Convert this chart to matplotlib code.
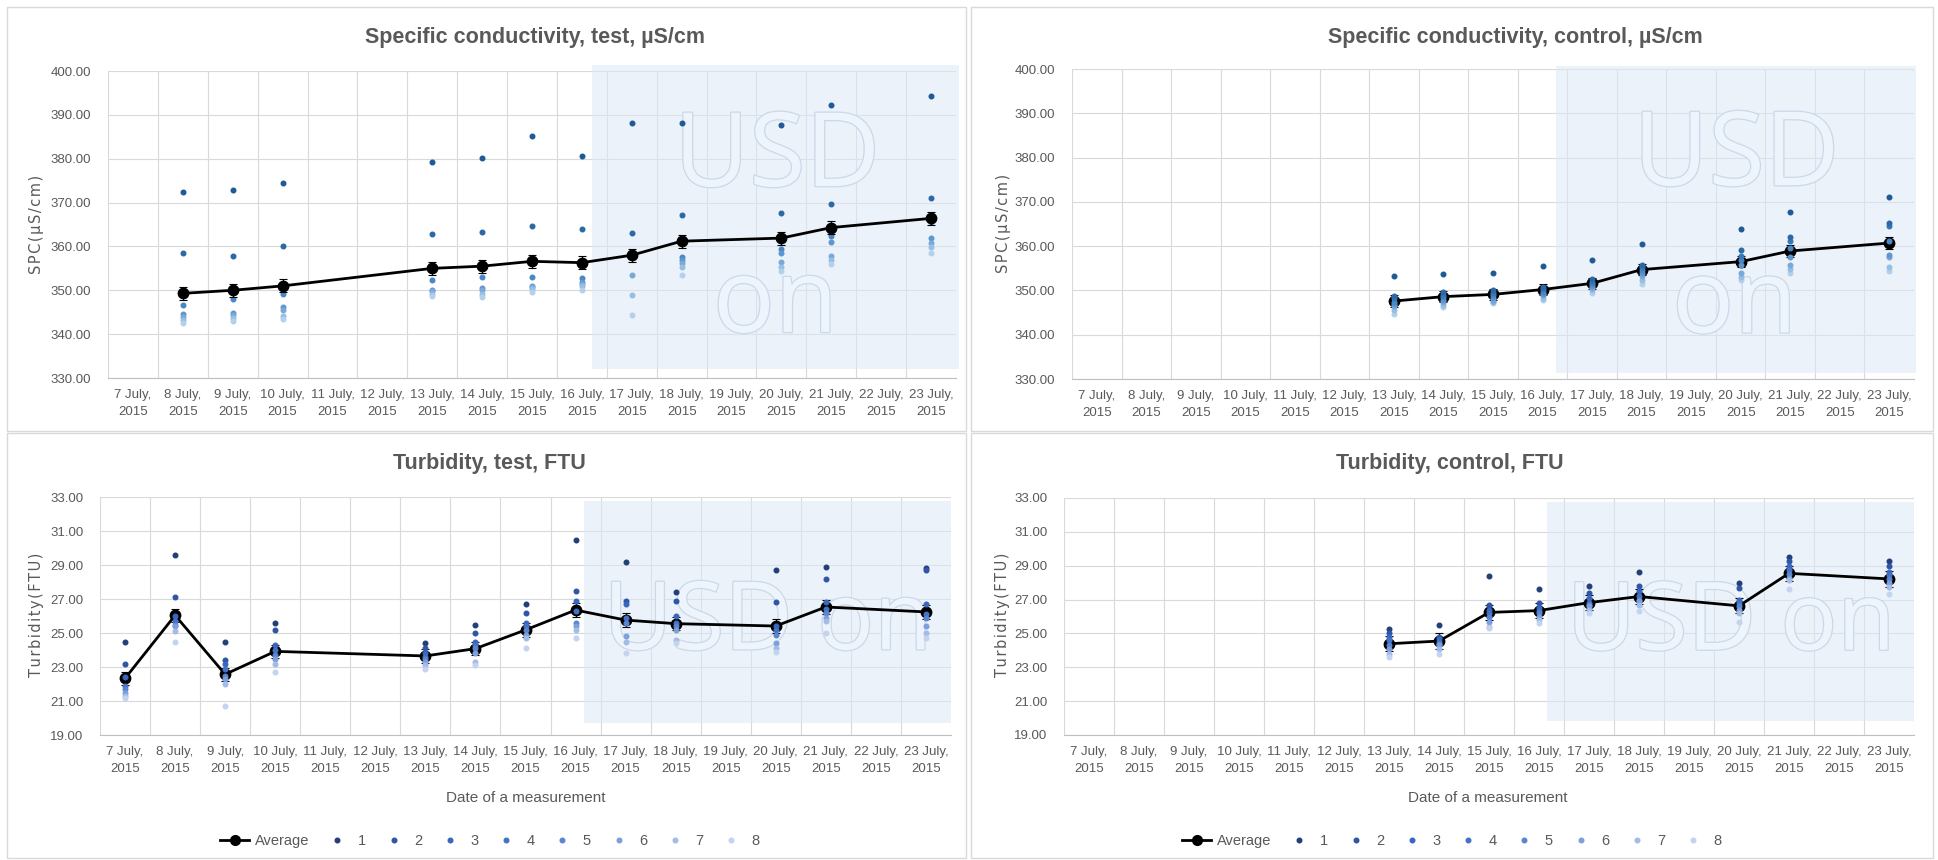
import numpy as np
import matplotlib.pyplot as plt
import matplotlib.font_manager as fm
import matplotlib.patheffects as pe
from matplotlib.lines import Line2D
from matplotlib.patches import Rectangle

# --- fonts ---
installed = {f.name for f in fm.fontManager.ttflist}
narrow = 'Liberation Sans Narrow' if 'Liberation Sans Narrow' in installed else 'Liberation Sans'
wm_font = 'Open Sans' if 'Open Sans' in installed else 'DejaVu Sans'
plt.rcParams['font.family'] = [narrow, 'DejaVu Sans']

# --- data ---
all_days = [7, 8, 9, 10, 11, 12, 13, 14, 15, 16, 17, 18, 19, 20, 21, 22, 23]
date_labels = [f"{d} July,\n2015" for d in all_days]
series_names = ['1', '2', '3', '4', '5', '6', '7', '8']

# Specific conductivity, test (rows = dates, columns = series 1..8)
spc_test_days = [8, 9, 10, 13, 14, 15, 16, 17, 18, 20, 21, 23]
spc_test_pts = [
    [372.3, 358.6, 349.0, 346.7, 344.5, 343.9, 343.3, 342.5],
    [372.9, 357.8, 349.6, 347.9, 344.9, 344.3, 343.7, 343.0],
    [374.5, 360.2, 351.3, 349.1, 346.2, 345.4, 344.1, 343.5],
    [379.2, 362.8, 355.5, 352.3, 350.1, 349.8, 349.2, 348.6],
    [380.1, 363.3, 355.8, 353.1, 350.6, 350.0, 349.2, 348.5],
    [385.1, 364.6, 356.9, 353.1, 351.0, 350.8, 350.3, 349.5],
    [380.7, 363.9, 356.6, 352.7, 352.0, 351.4, 350.9, 350.1],
    [388.1, 363.0, 358.4, 358.1, 357.7, 353.4, 349.0, 344.3],
    [388.1, 367.1, 361.3, 357.5, 356.9, 356.2, 355.3, 353.4],
    [387.6, 367.7, 362.0, 359.4, 358.4, 356.5, 355.3, 354.4],
    [392.3, 369.7, 364.5, 362.4, 361.0, 357.8, 357.0, 356.1],
    [394.4, 371.1, 366.6, 365.5, 362.0, 360.7, 359.9, 358.4],
]
spc_test_avg = [349.3, 350.0, 351.0, 355.0, 355.5, 356.6, 356.3, 358.0, 361.2, 361.9, 364.3, 366.4]
spc_test_err = [1.5, 1.5, 1.5, 1.5, 1.5, 1.5, 1.5, 1.5, 1.5, 1.5, 1.5, 1.5]

# Specific conductivity, control
spc_ctrl_days = [13, 14, 15, 16, 17, 18, 20, 21, 23]
spc_ctrl_pts = [
    [344.7, 345.6, 346.4, 347.0, 347.5, 348.2, 348.8, 353.2],
    [346.3, 346.8, 347.4, 347.9, 348.5, 349.0, 349.6, 353.7],
    [347.1, 347.4, 347.7, 348.3, 349.0, 349.5, 350.1, 353.9],
    [347.9, 348.4, 348.9, 349.2, 349.7, 350.3, 350.8, 355.5],
    [349.5, 350.0, 350.5, 351.0, 351.4, 352.0, 352.6, 356.9],
    [351.5, 352.4, 353.3, 354.0, 354.6, 355.2, 355.8, 360.5],
    [352.4, 353.1, 354.0, 355.8, 356.9, 357.8, 359.2, 363.8],
    [354.0, 354.8, 355.8, 357.6, 359.5, 361.2, 362.0, 367.7],
    [354.5, 355.4, 357.5, 358.0, 361.2, 364.5, 365.2, 371.0],
]
spc_ctrl_avg = [347.6, 348.6, 349.1, 350.2, 351.6, 354.7, 356.5, 358.9, 360.7]
spc_ctrl_err = [1.3, 1.3, 1.3, 1.3, 1.3, 1.3, 1.3, 1.3, 1.3]

# Turbidity, test
turb_test_days = [7, 8, 9, 10, 13, 14, 15, 16, 17, 18, 20, 21, 23]
turb_test_pts = [
    [24.5, 23.2, 22.4, 21.9, 21.7, 21.5, 21.3, 21.2],
    [29.6, 27.1, 26.0, 25.7, 25.5, 25.4, 25.1, 24.5],
    [24.5, 23.4, 23.2, 22.9, 22.5, 22.3, 22.0, 20.7],
    [25.6, 25.2, 24.3, 24.0, 23.7, 23.5, 23.2, 22.7],
    [24.4, 24.1, 23.8, 23.6, 23.5, 23.3, 23.1, 22.9],
    [25.5, 25.0, 24.5, 24.3, 24.1, 23.8, 23.3, 23.1],
    [26.7, 26.2, 25.6, 25.4, 25.2, 24.9, 24.7, 24.1],
    [30.5, 27.5, 26.9, 26.3, 25.6, 25.4, 25.2, 24.7],
    [29.2, 26.9, 26.7, 25.9, 25.6, 24.8, 24.5, 23.8],
    [27.4, 26.9, 26.0, 25.6, 25.4, 25.2, 24.6, 24.4],
    [28.7, 26.8, 25.4, 25.2, 24.9, 24.4, 24.1, 23.9],
    [28.9, 28.2, 26.8, 26.4, 26.2, 25.9, 25.7, 25.0],
    [28.8, 28.7, 26.7, 26.1, 25.9, 25.4, 25.0, 24.7],
]
turb_test_avg = [22.33, 26.04, 22.57, 23.92, 23.65, 24.08, 25.18, 26.35, 25.76, 25.55, 25.41, 26.53, 26.24]
turb_test_err = [0.4, 0.4, 0.4, 0.4, 0.4, 0.4, 0.4, 0.4, 0.4, 0.4, 0.4, 0.4, 0.4]

# Turbidity, control
turb_ctrl_days = [13, 14, 15, 16, 17, 18, 20, 21, 23]
turb_ctrl_pts = [
    [25.25, 25.0, 24.8, 24.6, 24.3, 24.1, 23.8, 23.6],
    [25.5, 24.8, 24.7, 24.5, 24.4, 24.3, 24.1, 23.8],
    [28.4, 26.7, 26.4, 26.2, 26.0, 25.7, 25.4, 25.3],
    [27.6, 26.8, 26.5, 26.3, 26.2, 26.0, 25.8, 25.6],
    [27.8, 27.4, 27.1, 26.8, 26.7, 26.6, 26.4, 26.2],
    [28.6, 27.8, 27.5, 27.2, 27.0, 26.9, 26.7, 26.3],
    [28.0, 27.7, 27.0, 26.8, 26.6, 26.4, 26.2, 25.7],
    [29.5, 29.3, 29.0, 28.75, 28.5, 28.3, 28.15, 27.6],
    [29.3, 29.0, 28.6, 28.45, 28.2, 28.0, 27.75, 27.35],
]
turb_ctrl_avg = [24.39, 24.55, 26.24, 26.35, 26.82, 27.18, 26.63, 28.55, 28.22]
turb_ctrl_err = [0.45, 0.45, 0.45, 0.45, 0.45, 0.45, 0.45, 0.45, 0.45]

# --- colours ---
spc_colors = ['#1f5a96', '#2b69a6', '#3878b8', '#4a87c5', '#5e96ce', '#79a9d8', '#97bee3', '#b3d0ec']
turb_colors = ['#243f78', '#2f55a4', '#3a66c0', '#4472c4', '#5b85d0', '#7d9fdb', '#a2bbe7', '#c3d3f0']
txt_color = '#595959'
grid_color = '#d9d9d9'


def draw_panel(ax, days, pts, avg, err, colors, ylim, yticks, shade, pts_on_top):
    x = np.array([all_days.index(d) for d in days])
    pts = np.array(pts)
    pz = 5 if pts_on_top else 3
    for k in range(pts.shape[1]):
        ax.plot(x, pts[:, k], 'o', ls='none', ms=3.3, color=colors[k], zorder=pz)
    ax.errorbar(x, avg, yerr=err, color='black', lw=2, marker='o', ms=7.5,
                ecolor='black', elinewidth=0.8, capsize=3, capthick=0.8, zorder=4)

    # shaded "on" period
    x0, x1, y0, y1 = shade
    ax.add_patch(Rectangle((x0, y0), x1 - x0, y1 - y0, facecolor='#dce9f7',
                           alpha=0.55, edgecolor='none', clip_on=False, zorder=1))

    ax.set_xlim(-0.5, 16.5)
    ax.set_ylim(*ylim)
    ax.set_yticks(yticks)
    ax.set_yticklabels([f"{v:.2f}" for v in yticks])
    ax.set_xticks(np.arange(17))
    ax.set_xticklabels(date_labels, linespacing=1.5)
    ax.set_xticks(np.arange(-0.5, 17, 1), minor=True)
    ax.grid(which='minor', axis='x', color=grid_color, lw=0.8)
    ax.grid(which='major', axis='y', color=grid_color, lw=0.8)
    ax.set_axisbelow(True)
    ax.tick_params(which='both', length=0, colors=txt_color, labelsize=9.5)
    ax.tick_params(axis='x', pad=8)
    ax.tick_params(axis='y', pad=12)
    for s in ['top', 'right', 'left']:
        ax.spines[s].set_visible(False)
    ax.spines['bottom'].set_color('#bfbfbf')


fig = plt.figure(figsize=(19.38, 8.6), dpi=100)
W, H = 1938.0, 860.0


def add_axes_px(l, t, r, b):
    return fig.add_axes([l / W, 1 - b / H, (r - l) / W, (b - t) / H])


ax_tl = add_axes_px(108, 71, 956, 378)
ax_tr = add_axes_px(1072, 69, 1914, 379)
ax_bl = add_axes_px(100, 497, 951, 735)
ax_br = add_axes_px(1064, 498, 1914, 735)

spc_ticks = [330, 340, 350, 360, 370, 380, 390, 400]
turb_ticks = [19, 21, 23, 25, 27, 29, 31, 33]

draw_panel(ax_tl, spc_test_days, spc_test_pts, spc_test_avg, spc_test_err, spc_colors,
           (330, 400), spc_ticks, (9.2, 16.56, 332.1, 401.4), False)
draw_panel(ax_tr, spc_ctrl_days, spc_ctrl_pts, spc_ctrl_avg, spc_ctrl_err, spc_colors[::-1],
           (330, 400), spc_ticks, (9.27, 16.54, 331.4, 400.7), True)
draw_panel(ax_bl, turb_test_days, turb_test_pts, turb_test_avg, turb_test_err, turb_colors,
           (19, 33), turb_ticks, (9.17, 16.5, 19.7, 32.76), True)
draw_panel(ax_br, turb_ctrl_days, turb_ctrl_pts, turb_ctrl_avg, turb_ctrl_err, turb_colors,
           (19, 33), turb_ticks, (9.16, 16.5, 19.8, 32.76), True)

# watermark
wm_kw = dict(family=wm_font, color='#eef4fb', ha='center', va='baseline', zorder=2,
             path_effects=[pe.withStroke(linewidth=1.8, foreground='#cbd8e8')])
for ax in (ax_tl, ax_tr):
    ax.text(0.789, 0.625, 'USD', transform=ax.transAxes, fontsize=74, **wm_kw)
    ax.text(0.787, 0.15, 'on', transform=ax.transAxes, fontsize=74, **wm_kw)
for ax in (ax_bl, ax_br):
    ax.text(0.785, 0.36, 'USD on', transform=ax.transAxes, fontsize=68, **wm_kw)

# titles
title_kw = dict(ha='center', va='center', fontsize=15.5, fontweight='bold', color=txt_color)
fig.text(535 / W, 1 - 38 / H, 'Specific conductivity, test, µS/cm', **title_kw)
fig.text(1515 / W, 1 - 37 / H, 'Specific conductivity, control, µS/cm', **title_kw)
fig.text(489 / W, 1 - 463 / H, 'Turbidity, test, FTU', **title_kw)
fig.text(1450 / W, 1 - 463 / H, 'Turbidity, control, FTU', **title_kw)


# y labels (letter-spaced as in the original)
def spaced(s):
    return '\u200a'.join(s)


ylab_kw = dict(ha='center', va='center', rotation=90, fontsize=10.5, color=txt_color,
               family='DejaVu Sans')
fig.text(37 / W, 1 - 224 / H, spaced('SPC(µS/cm)'), **ylab_kw)
fig.text(1003 / W, 1 - 223 / H, spaced('SPC(µS/cm)'), **ylab_kw)
fig.text(37 / W, 1 - 615 / H, spaced('Turbidity(FTU)'), **ylab_kw)
fig.text(1002 / W, 1 - 615 / H, spaced('Turbidity(FTU)'), **ylab_kw)

# x labels
fig.text(526 / W, 1 - 798 / H, 'Date of a measurement', ha='center', va='center',
         fontsize=11, color=txt_color)
fig.text(1488 / W, 1 - 798 / H, 'Date of a measurement', ha='center', va='center',
         fontsize=11, color=txt_color)

# legends (bottom panels)
handles = [Line2D([], [], color='black', lw=2, marker='o', ms=7)]
handles += [Line2D([], [], color=c, ls='none', marker='o', ms=3.3) for c in turb_colors]
labels = ['Average'] + series_names
for cx in (490 / W, 1452 / W):
    fig.legend(handles, labels, loc='center', bbox_to_anchor=(cx, 1 - 841 / H), ncol=9,
               frameon=False, fontsize=10.5, labelcolor=txt_color, handlelength=2.0,
               columnspacing=0.9, handletextpad=0.4)

# panel borders
for (l, t, r, b) in [(7, 7, 966, 431), (971, 7, 1933, 431), (7, 433, 966, 858), (971, 433, 1933, 858)]:
    fig.add_artist(Rectangle((l / W, 1 - b / H), (r - l) / W, (b - t) / H,
                             transform=fig.transFigure, fill=False, edgecolor='#d9d9d9', lw=1))

fig.savefig('out.png', dpi=100)
